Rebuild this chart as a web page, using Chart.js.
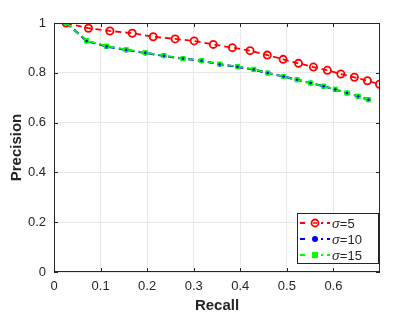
<!DOCTYPE html>
<html><head><meta charset="utf-8">
<script src="https://cdn.jsdelivr.net/npm/chart.js@4/dist/chart.umd.min.js"></script>
<style>html,body{margin:0;padding:0;background:#fff}#wrap{width:420px;height:315px}</style>
</head><body><div id="wrap"><canvas id="c" width="420" height="315"></canvas></div>
<script>
const seriesNames = ['5', '10', '15'];
const recall5 = [0.026,0.074,0.120,0.168,0.213,0.260,0.301,0.342,0.383,0.421,0.458,0.492,0.525,0.557,0.587,0.616,0.645,0.673,0.699];
const precision5 = [1.0,0.979,0.968,0.959,0.945,0.936,0.928,0.914,0.901,0.889,0.871,0.854,0.838,0.823,0.810,0.795,0.782,0.768,0.754];
const recall10 = [0.027,0.070,0.113,0.155,0.196,0.236,0.277,0.317,0.356,0.394,0.429,0.459,0.493,0.522,0.551,0.579,0.604,0.629,0.653,0.675];
const precision10 = [1.0,0.928,0.906,0.892,0.880,0.868,0.857,0.848,0.834,0.824,0.813,0.799,0.785,0.772,0.759,0.746,0.733,0.719,0.706,0.692];
const recall15 = [0.027,0.070,0.113,0.155,0.196,0.236,0.277,0.317,0.356,0.394,0.429,0.459,0.493,0.522,0.551,0.579,0.604,0.629,0.653,0.675];
const precision15 = [1.0,0.929,0.907,0.893,0.881,0.869,0.857,0.849,0.835,0.825,0.814,0.799,0.785,0.772,0.759,0.746,0.734,0.719,0.706,0.692];
const xTicks = [0,0.1,0.2,0.3,0.4,0.5,0.6];
const yTicks = [0,0.2,0.4,0.6,0.8,1];
const xMax = 0.7;

const FONT = '"Liberation Sans", Arial, Helvetica, sans-serif';
const AX = '#262626';
const colors = ['#ff0000', '#0000ff', '#00ff00'];

function pts(xs, ys){ return xs.map((x,i)=>({x:x, y:ys[i]})); }

const boxPlugin = {
  id: 'box',
  afterDraw(chart){
    const {ctx, chartArea:a, scales} = chart;
    ctx.save();
    ctx.strokeStyle = AX; ctx.lineWidth = 1;
    ctx.strokeRect(a.left+0.5, a.top+0.5, a.right-a.left-1, a.bottom-a.top-1);
    ctx.beginPath();
    xTicks.forEach(v=>{ const x = Math.round(scales.x.getPixelForValue(v))+0.5;
      ctx.moveTo(x, a.bottom); ctx.lineTo(x, a.bottom-4); ctx.moveTo(x, a.top); ctx.lineTo(x, a.top+4); });
    yTicks.forEach(v=>{ const y = Math.round(scales.y.getPixelForValue(v))+0.5;
      ctx.moveTo(a.left, y); ctx.lineTo(a.left+4, y); ctx.moveTo(a.right, y); ctx.lineTo(a.right-4, y); });
    ctx.stroke();
    // legend
    const lx = 297.5, ly = 213.5, lw = 81, lh = 50;
    ctx.fillStyle = '#fff'; ctx.fillRect(lx, ly, lw, lh);
    ctx.strokeStyle = '#262626'; ctx.strokeRect(lx, ly, lw, lh);
    const rows = [223, 239, 255];
    [0,1,2].forEach(i=>{
      const y = rows[i], col = colors[i];
      ctx.strokeStyle = col; ctx.lineWidth = 1.8; ctx.setLineDash([5,4]);
      ctx.beginPath(); ctx.moveTo(300, y); ctx.lineTo(330, y); ctx.stroke(); ctx.setLineDash([]);
      const mx = 315;
      ctx.fillStyle = '#fff'; ctx.fillRect(mx-6, y-6, 12, 12);
      if (i===0){ ctx.lineWidth=1.8; ctx.strokeStyle=col; ctx.beginPath(); ctx.arc(mx,y,3.5,0,Math.PI*2); ctx.stroke();
        ctx.lineWidth=1.5; ctx.beginPath(); ctx.moveTo(mx-2,y); ctx.lineTo(mx+2,y); ctx.stroke(); }
      else if (i===1){ ctx.fillStyle=col; ctx.beginPath(); ctx.arc(mx,y,3,0,Math.PI*2); ctx.fill(); }
      else { ctx.fillStyle=col; ctx.fillRect(mx-3,y-3,6,6); }
      ctx.fillStyle = AX; ctx.textBaseline = 'middle'; ctx.textAlign='left';
      ctx.font = 'italic 13px ' + FONT; ctx.fillText('σ', 332, y+1);
      const w = ctx.measureText('σ').width;
      ctx.font = '13px ' + FONT; ctx.fillText('=' + seriesNames[i], 332 + w, y+1);
    });
    ctx.restore();
  }
};

new Chart(document.getElementById('c'), {
  type: 'scatter',
  data: { datasets: [
    { label:'σ=5', data: pts(recall5, precision5), showLine:true, borderColor:colors[0], borderWidth:1.8, borderDash:[6,4],
      pointStyle:'circle', pointRadius:3.6, pointBorderWidth:1.8, pointBackgroundColor:'rgba(255,255,255,0)', pointBorderColor:colors[0], order:4 },
    { label:'σ=10', data: pts(recall10, precision10), showLine:true, borderColor:colors[1], borderWidth:2.2, borderDash:[6,4],
      pointStyle:'circle', pointRadius:2.5, pointBorderWidth:0, pointBackgroundColor:colors[1], order:3 },
    { label:'σ=15', data: pts(recall15, precision15), showLine:true, borderColor:colors[2], borderWidth:1.6, borderDash:[6,4],
      pointStyle:'rect', pointRadius:3.6, pointBorderWidth:0, pointBackgroundColor:colors[2], order:2 },
    { label:'σ=10 markers', data: pts(recall10, precision10), showLine:false,
      pointStyle:'circle', pointRadius:1.3, pointBorderWidth:0, pointBackgroundColor:colors[1], order:1 }
  ]},
  options: {
    responsive:false, animation:false, devicePixelRatio:1,
    layout:{ padding:{ left:0, right:40, top:23, bottom:0 } },
    plugins:{ legend:{display:false}, tooltip:{enabled:false} },
    scales:{
      x:{ type:'linear', min:0, max:xMax,
        afterBuildTicks(s){ s.ticks = xTicks.map(v=>({value:v})); },
        afterFit(s){ s.height = 43; },
        grid:{ color:'#e8e8e8', drawTicks:false, lineWidth:1 },
        border:{ display:false },
        ticks:{ padding:7, color:AX, font:{family:FONT, size:13}, callback:v=>String(Math.round(v*10)/10), maxRotation:0 },
        title:{ display:true, text:'Recall', color:AX, font:{family:FONT, size:15, weight:'bold'}, padding:{top:0,bottom:0} }
      },
      y:{ type:'linear', min:0, max:1,
        afterBuildTicks(s){ s.ticks = yTicks.map(v=>({value:v})); },
        afterFit(s){ s.width = 54; },
        grid:{ color:'#e8e8e8', drawTicks:false, lineWidth:1 },
        border:{ display:false },
        ticks:{ padding:8, color:AX, font:{family:FONT, size:13}, callback:v=>String(Math.round(v*10)/10) },
        title:{ display:true, text:'Precision', color:AX, font:{family:FONT, size:15, weight:'bold'}, padding:{top:8,bottom:0} }
      }
    }
  },
  plugins:[boxPlugin]
});
</script></body></html>
